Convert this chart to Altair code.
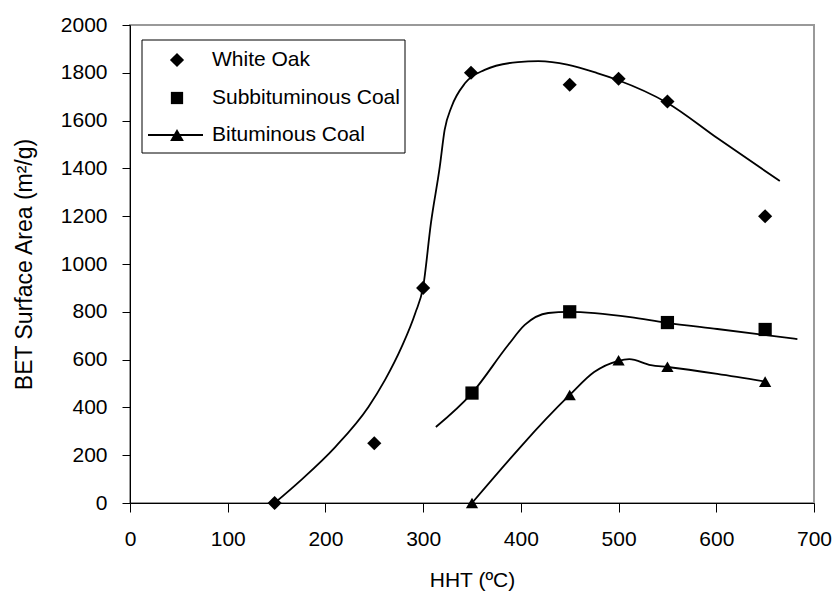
import altair as alt
import pandas as pd

# ---- data ----
series_names = ["White Oak", "Subbituminous Coal", "Bituminous Coal"]
series_shapes = ["diamond", "square", "triangle-up"]
series_sizes = [200, 150, 190]

oak_x = [148, 250, 300, 349, 450, 500, 550, 650]
oak_y = [0, 250, 900, 1800, 1750, 1775, 1680, 1200]
sub_x = [350, 450, 550, 650]
sub_y = [460, 800, 755, 726]
bit_x = [350, 450, 500, 550, 650]
bit_y = [0, 452, 597, 570, 508]

oak_fit_x = [148, 175, 210, 244, 261, 278, 292, 300, 308, 317, 322, 329, 343, 363, 397, 418, 478, 499, 550, 601, 665]
oak_fit_y = [0, 96, 234, 402, 515, 653, 795, 904, 1172, 1406, 1561, 1657, 1757, 1812, 1845, 1849, 1799, 1770, 1674, 1527, 1347]
sub_fit_x = [313, 350, 387, 404, 428, 449, 512, 548, 601, 683]
sub_fit_y = [318, 460, 661, 745, 795, 800, 778, 755, 728, 686]
bit_fit_x = [350, 450, 475, 499, 511, 533, 550, 601, 650]
bit_fit_y = [0, 452, 548, 594, 602, 577, 569, 540, 508]

x_ticks = [0, 100, 200, 300, 400, 500, 600, 700]
y_ticks = [0, 200, 400, 600, 800, 1000, 1200, 1400, 1600, 1800, 2000]

FONT = "Liberation Sans"
FS = 21
W, H = 684, 478

pts = pd.concat([
    pd.DataFrame({"x": oak_x, "y": oak_y, "s": series_names[0]}),
    pd.DataFrame({"x": sub_x, "y": sub_y, "s": series_names[1]}),
    pd.DataFrame({"x": bit_x, "y": bit_y, "s": series_names[2]}),
])
fits = pd.concat([
    pd.DataFrame({"x": oak_fit_x, "y": oak_fit_y, "s": series_names[0]}),
    pd.DataFrame({"x": sub_fit_x, "y": sub_fit_y, "s": series_names[1]}),
    pd.DataFrame({"x": bit_fit_x, "y": bit_fit_y, "s": series_names[2]}),
])

xs = alt.Scale(domain=[0, 700], nice=False, zero=False)
ys = alt.Scale(domain=[0, 2000], nice=False, zero=False)

x_axis = alt.Axis(values=x_ticks, format="d", title="HHT (ºC)", grid=False, tickSize=9,
                  labelPadding=16, labelFlush=False, titleX=W / 2, titleY=77,
                  titleBaseline="middle", titleFontSize=21)
y_axis = alt.Axis(values=y_ticks, format="d", title="BET Surface Area (m²/g)", grid=False, tickSize=8,
                  labelPadding=15, labelFlush=False, titleX=-106, titleY=H / 2,
                  titleBaseline="middle", titleAngle=-90, titleAlign="center", titleFontSize=23)

lines = alt.Chart(fits).mark_line(color="black", strokeWidth=1.8, interpolate="monotone").encode(
    x=alt.X("x:Q", scale=xs, axis=x_axis),
    y=alt.Y("y:Q", scale=ys, axis=y_axis),
    detail="s:N",
)

points = alt.Chart(pts).mark_point(filled=True, color="black", opacity=1).encode(
    x=alt.X("x:Q", scale=xs),
    y=alt.Y("y:Q", scale=ys),
    shape=alt.Shape("s:N", scale=alt.Scale(domain=series_names, range=series_shapes), legend=None),
    size=alt.Size("s:N", scale=alt.Scale(domain=series_names, range=series_sizes), legend=None),
)

# ---- manual legend (pixel positions inside plot area) ----
one = pd.DataFrame({"a": [0]})
legend_box = alt.Chart(one).mark_rect(fill="white", stroke="black", strokeWidth=1).encode(
    x=alt.value(12), x2=alt.value(275), y=alt.value(15), y2=alt.value(128)
)
legend_layers = [legend_box]
row_y = [35, 73, 110]
legend_layers.append(
    alt.Chart(one).mark_rule(color="black", strokeWidth=1.8).encode(
        x=alt.value(18), x2=alt.value(73), y=alt.value(row_y[2])
    )
)
for name, shp, sz, ry in zip(series_names, series_shapes, series_sizes, row_y):
    d = pd.DataFrame({"label": [name]})
    legend_layers.append(
        alt.Chart(d).mark_point(shape=shp, filled=True, color="black", size=sz, opacity=1).encode(
            x=alt.value(47), y=alt.value(ry)
        )
    )
    legend_layers.append(
        alt.Chart(d).mark_text(align="left", baseline="middle", font=FONT, fontSize=FS, color="black").encode(
            x=alt.value(82), y=alt.value(ry), text="label:N"
        )
    )

chart = alt.layer(lines, points, *legend_layers).properties(
    width=W, height=H,
    autosize=alt.AutoSizeParams(type="none"),
    padding={"left": 122, "top": 17, "right": 18, "bottom": 90},
    background="white",
).configure_view(
    stroke="#999999", strokeWidth=2
).configure_axis(
    domainColor="black", domainWidth=1, tickColor="black", tickWidth=1,
    labelFont=FONT, labelFontSize=FS, labelColor="black",
    titleFont=FONT, titleFontWeight="normal", titleColor="black",
).configure_text(font=FONT)

chart.save("out.html", embed_options={"renderer": "svg", "actions": False})
